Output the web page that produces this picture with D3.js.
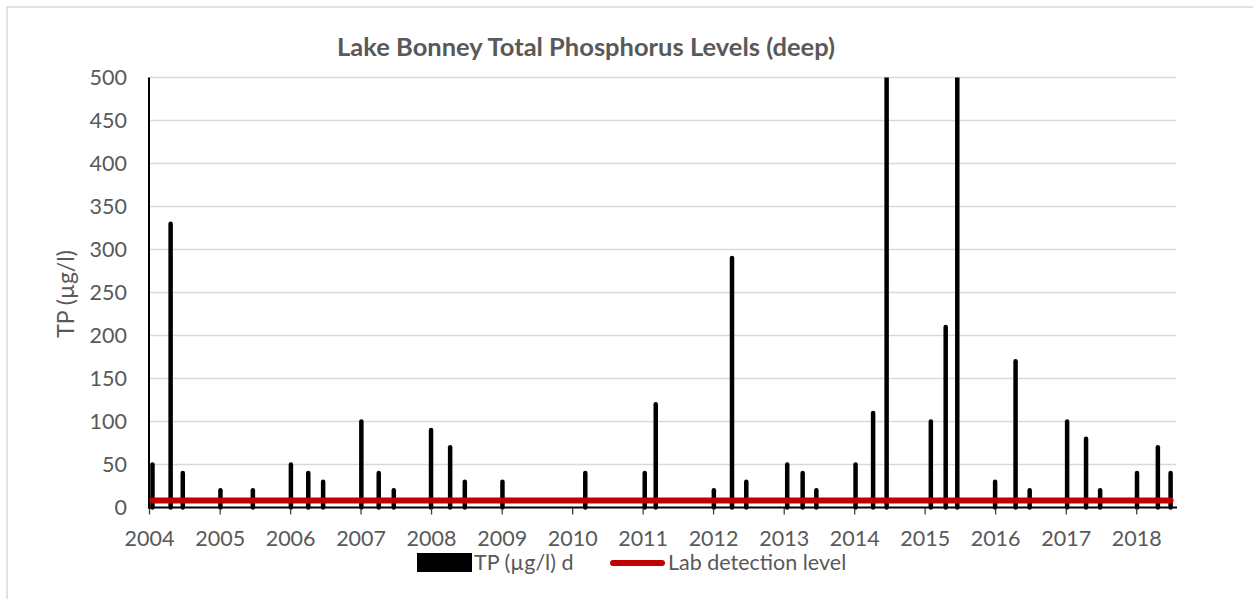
<!DOCTYPE html>
<html>
<head>
<meta charset="utf-8">
<script src="https://cdn.jsdelivr.net/npm/d3@7"></script>
<style>
  body { margin: 0; background: #fff; }
  svg text { font-family: Lato, "Open Sans", sans-serif; fill: #595959; }
</style>
</head>
<body>
<script>
//sample dates (deep samples) and TP values
var sampleDates = ["2004-01-19", "2004-04-22", "2004-06-24", "2005-01-05", "2005-06-22",
    "2006-01-05", "2006-04-05", "2006-06-21", "2007-01-05", "2007-04-05", "2007-06-22",
    "2008-01-01", "2008-04-09", "2008-06-24", "2009-01-05", "2010-03-10", "2011-01-12",
    "2011-03-10", "2012-01-05", "2012-04-08", "2012-06-21", "2013-01-19", "2013-04-09",
    "2013-06-19", "2014-01-08", "2014-04-09", "2014-06-18", "2015-02-02", "2015-04-20",
    "2015-06-19", "2016-01-01", "2016-04-16", "2016-06-28", "2017-01-08", "2017-04-16",
    "2017-06-28", "2018-01-05", "2018-04-23", "2018-06-28"];
var tpValues = [50, 330, 40, 20, 20, 50, 40, 30, 100, 40, 20, 90, 70, 30, 30, 40, 40, 120,
    20, 290, 30, 50, 40, 20, 50, 110, 500, 100, 210, 500, 30, 170, 20, 100, 80, 20, 40, 70, 40];
var labDetection = 8;
var yTicks = [0, 50, 100, 150, 200, 250, 300, 350, 400, 450, 500];
var seriesNames = ["TP (µg/l) d", "Lab detection level"];
var chartTitle = "Lake Bonney Total Phosphorus Levels (deep)";

window.onload = setChart();

function setChart(){
    var width = 1253,
        height = 599,
        labelSize = "21.5px";

    var svg = d3.select("body")
        .append("svg")
        .attr("width", width)
        .attr("height", height);

    //chart border, runs off the right and bottom edge
    svg.append("rect")
        .attr("x", 7)
        .attr("y", 7)
        .attr("width", width)
        .attr("height", height)
        .style("fill", "#fff")
        .style("stroke", "#d9d9d9")
        .style("stroke-width", 1.5);

    var parseDate = d3.timeParse("%Y-%m-%d");
    var data = sampleDates.map(function(d, i){
        return { date: parseDate(d), tp: tpValues[i] };
    });

    var xScale = d3.scaleTime()
        .domain([parseDate("2004-01-01"), parseDate("2018-07-26")])
        .range([149, 1176]);

    var yScale = d3.scaleLinear()
        .domain([0, 500])
        .range([507.5, 77.5]);

    //gridlines
    svg.append("g")
        .selectAll("line")
        .data(yTicks.slice(1))
        .enter()
        .append("line")
        .attr("x1", 149)
        .attr("x2", 1176)
        .attr("y1", function(d){ return yScale(d); })
        .attr("y2", function(d){ return yScale(d); })
        .style("stroke", "#d9d9d9")
        .style("stroke-width", 1.3);

    //clip so the tall bars stop at the top of the plot
    svg.append("clipPath")
        .attr("id", "plotClip")
        .append("rect")
        .attr("x", 140)
        .attr("y", 77.5)
        .attr("width", 1045)
        .attr("height", 445);

    //bars drawn as thick lines with round ends
    svg.append("g")
        .attr("clip-path", "url(#plotClip)")
        .selectAll(".bar")
        .data(data)
        .enter()
        .append("line")
        .attr("class", "bar")
        .attr("x1", function(d){ return xScale(d.date); })
        .attr("x2", function(d){ return xScale(d.date); })
        .attr("y1", yScale(0))
        .attr("y2", function(d){ return yScale(d.tp); })
        .style("stroke", "#000")
        .style("stroke-width", 4.5)
        .style("stroke-linecap", "round");

    //x axis
    var xAxis = d3.axisBottom(xScale)
        .ticks(d3.timeYear.every(1))
        .tickFormat(d3.timeFormat("%Y"))
        .tickSize(7)
        .tickPadding(16);

    var gx = svg.append("g")
        .attr("transform", "translate(0," + yScale(0) + ")")
        .call(xAxis);
    gx.select(".domain").remove();
    gx.selectAll(".tick line").style("stroke", "#404040").style("stroke-width", 1.3);
    gx.selectAll(".tick text")
        .style("font-size", labelSize)
        .style("font-family", "Lato")
        .attr("fill", "#595959");

    svg.append("line")
        .attr("x1", 148)
        .attr("x2", 1177)
        .attr("y1", yScale(0))
        .attr("y2", yScale(0))
        .style("stroke", "#000")
        .style("stroke-width", 2);

    //y axis
    var yAxis = d3.axisLeft(yScale)
        .tickValues(yTicks)
        .tickSize(0)
        .tickPadding(22);

    var gy = svg.append("g")
        .attr("transform", "translate(149,0)")
        .call(yAxis);
    gy.select(".domain").remove();
    gy.selectAll(".tick text")
        .style("font-size", labelSize)
        .style("font-family", "Lato")
        .attr("fill", "#595959");

    svg.append("line")
        .attr("x1", 149)
        .attr("x2", 149)
        .attr("y1", yScale(500))
        .attr("y2", yScale(0) + 1)
        .style("stroke", "#000")
        .style("stroke-width", 2);

    //lab detection level line
    var detLine = d3.line()
        .x(function(d){ return xScale(d.date); })
        .y(function(){ return yScale(labDetection); });

    svg.append("path")
        .datum(data)
        .attr("d", detLine)
        .style("fill", "none")
        .style("stroke", "#c00000")
        .style("stroke-width", 6)
        .style("stroke-linecap", "round");

    //title
    svg.append("text")
        .attr("x", 586)
        .attr("y", 56)
        .attr("text-anchor", "middle")
        .style("font-size", "25.5px")
        .style("font-weight", "bold")
        .text(chartTitle);

    //y axis title
    svg.append("text")
        .attr("transform", "translate(74,294) rotate(-90)")
        .attr("text-anchor", "middle")
        .style("font-size", "23px")
        .text("TP (µg/l)");

    //legend
    var legend = svg.append("g");
    legend.append("rect")
        .attr("x", 417)
        .attr("y", 553)
        .attr("width", 55)
        .attr("height", 19)
        .style("fill", "#000");
    legend.append("text")
        .attr("x", 474)
        .attr("y", 570)
        .style("font-size", labelSize)
        .text(seriesNames[0]);
    legend.append("line")
        .attr("x1", 613)
        .attr("x2", 662)
        .attr("y1", 563)
        .attr("y2", 563)
        .style("stroke", "#c00000")
        .style("stroke-width", 6)
        .style("stroke-linecap", "round");
    legend.append("text")
        .attr("x", 668)
        .attr("y", 570)
        .style("font-size", labelSize)
        .text(seriesNames[1]);
};
</script>
</body>
</html>
